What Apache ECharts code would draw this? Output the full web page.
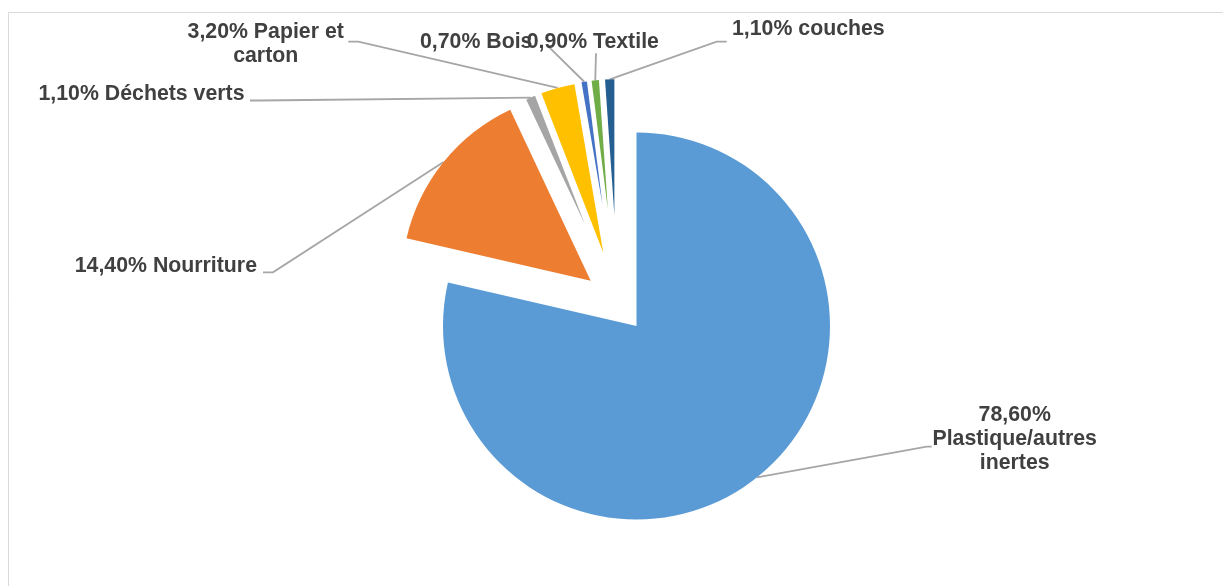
<!DOCTYPE html>
<html>
<head>
<meta charset="utf-8">
<script src="https://cdn.jsdelivr.net/npm/echarts@6.0.0/dist/echarts.min.js"></script>
<style>
  html, body { margin: 0; padding: 0; background: #ffffff; }
  #chart { width: 1223px; height: 586px; }
</style>
</head>
<body>
<div id="chart"></div>
<script>
// Composition of the waste stream (% of total mass)
const categories = ['Plastique/autres inertes', 'Nourriture', 'Déchets verts', 'Papier et carton', 'Bois', 'Textile', 'couches'];
const shares = [78.6, 14.4, 1.1, 3.2, 0.7, 0.9, 1.1];
// category names as they wrap inside the labels
const labelNames = ['Plastique/autres\ninertes', 'Nourriture', 'Déchets verts', 'Papier et\ncarton', 'Bois', 'Textile', 'couches'];
const colors = ['#5B9BD5', '#ED7D31', '#A5A5A5', '#FFC000', '#4472C4', '#70AD47', '#255E91'];

// Each slice is its own pie series so that it can be pulled out of the main pie
// (centre and radius of the pie it is cut from, in px).
const sliceGeometry = [
  { center: [636.5, 326], r: 193.5 },
  { center: [590.7, 280.7], r: 189 },
  { center: [585, 224.5], r: 138 },
  { center: [603.3, 252.7], r: 171 },
  { center: [602.6, 205.4], r: 125 },
  { center: [607.9, 209.7], r: 130 },
  { center: [614.4, 215.2], r: 136 }
];

// Label placement and leader-line bend / end points.
const labelPlacement = [
  { x: 1014.7, y: 439.5, align: 'center', bend: [926.7, 446.7], end: [931.7, 446.7], breakAfterPct: true },
  { x: 257, y: 265.8, align: 'right', bend: [273, 272.3], end: [263, 272.3] },
  { x: 244.5, y: 94, align: 'right', bend: [260, 100.5], end: [250, 100.5] },
  { x: 265.7, y: 44.5, align: 'center', bend: [358.3, 41.7], end: [348.3, 41.7] },
  { x: 420, y: 41.7, align: 'left', bend: [549.3, 47.3], end: [549.3, 47.3] },
  { x: 526.7, y: 41.7, align: 'left', bend: [596, 53.3], end: [596, 53.3] },
  { x: 732, y: 29.3, align: 'left', bend: [716.7, 41.7], end: [726.7, 41.7] }
];

const TEXT_COLOR = '#404040';
const LINE_COLOR = '#A6A6A6';

function pctText(v) {
  return v.toFixed(2).replace('.', ',') + '%';
}

function labelText(i) {
  const sep = labelPlacement[i].breakAfterPct ? '\n' : ' ';
  return pctText(shares[i]) + sep + labelNames[i];
}

// fallback anchor: outer arc at the slice's mid angle
function arcAnchor(i) {
  const total = shares.reduce((a, b) => a + b, 0);
  let before = 0;
  for (let k = 0; k < i; k++) before += shares[k];
  const mid = (before + shares[i] / 2) / total * Math.PI * 2;
  const g = sliceGeometry[i];
  return [g.center[0] + g.r * Math.sin(mid), g.center[1] - g.r * Math.cos(mid)];
}

const series = sliceGeometry.map((geo, i) => ({
  type: 'pie',
  center: geo.center,
  radius: geo.r,
  startAngle: 90,
  clockwise: true,
  minAngle: 0,
  avoidLabelOverlap: false,
  silent: true,
  animation: false,
  emphasis: { disabled: true },
  itemStyle: { borderWidth: 0 },
  label: { show: false },
  labelLine: { show: false },
  data: shares.map((v, j) => {
    if (j !== i) {
      return {
        value: v, name: categories[j],
        itemStyle: { color: 'rgba(0,0,0,0)' },
        label: { show: false },
        labelLine: { show: false }
      };
    }
    return {
      value: v,
      name: categories[j],
      itemStyle: { color: colors[j] },
      label: {
        show: true,
        position: 'outside',
        formatter: () => labelText(j),
        color: TEXT_COLOR,
        fontFamily: '"Liberation Sans", Arial, sans-serif',
        fontWeight: 'bold',
        fontSize: 21.3,
        lineHeight: 24,
        align: labelPlacement[j].align
      },
      labelLine: {
        show: true,
        smooth: false,
        lineStyle: { color: LINE_COLOR, width: 1.8 }
      }
    };
  }),
  labelLayout: (p) => {
    if (p.dataIndex !== i) return {};
    const pl = labelPlacement[i];
    const anchor = (p.labelLinePoints && p.labelLinePoints[0]) || arcAnchor(i);
    return {
      x: pl.x,
      y: pl.y,
      align: pl.align,
      verticalAlign: 'middle',
      labelLinePoints: [anchor, pl.bend, pl.end]
    };
  }
}));

const chart = echarts.init(document.getElementById('chart'), null, { renderer: 'canvas' });
chart.setOption({
  animation: false,
  backgroundColor: '#ffffff',
  graphic: [{
    type: 'rect',
    silent: true,
    z: -10,
    shape: { x: 8.5, y: 12.5, width: 1400, height: 800 },
    style: { fill: 'none', stroke: '#D9D9D9', lineWidth: 1 }
  }],
  series: series
});
</script>
</body>
</html>
